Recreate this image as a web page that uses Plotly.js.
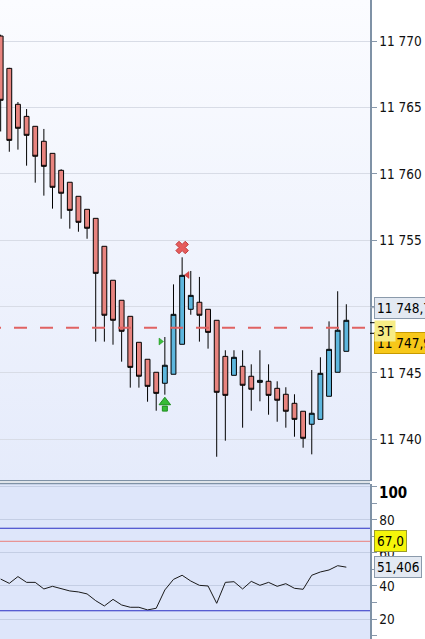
<!DOCTYPE html>
<html>
<head>
<meta charset="utf-8">
<script src="https://cdn.plot.ly/plotly-3.0.1.min.js"></script>
<style>
html,body{margin:0;padding:0;background:#fff;}
#wrap{position:relative;width:425px;height:639px;overflow:hidden;background:#fff;}
#bg1{position:absolute;left:0;top:0;width:370px;height:481px;background:linear-gradient(#fbfcff,#e5ebfb);}
#bg2{position:absolute;left:0;top:483px;width:370px;height:156px;background:#dee6fa;}
#chart{position:absolute;left:0;top:0;width:425px;height:639px;}
</style>
</head>
<body>
<div id="wrap"><div id="bg1"></div><div id="bg2"></div><div id="chart"></div></div>
<script>
// ---- data ----
const idx = Array.from({length: 41}, (_, i) => i);
const openP  = [11770.40,11767.96,11765.25,11764.34,11763.59,11762.46,11761.55,11760.27,11759.37,11758.31,11757.33,11756.65,11754.54,11751.98,11750.47,11749.26,11747.30,11746.02,11745.04,11744.21,11744.89,11747.15,11749.79,11750.32,11749.79,11748.96,11746.24,11744.81,11745.49,11744.74,11744.28,11744.36,11743.83,11743.38,11742.70,11742.10,11741.12,11741.49,11743.23,11745.04,11746.62];
const highP  = [11770.50,11768.00,11765.42,11764.89,11763.60,11763.39,11761.55,11760.35,11759.37,11758.31,11757.33,11756.65,11754.54,11751.98,11750.47,11749.26,11747.30,11746.02,11745.04,11747.70,11751.67,11753.71,11752.68,11752.23,11749.79,11748.96,11746.70,11746.70,11746.70,11745.64,11746.70,11745.64,11744.36,11743.91,11743.38,11742.10,11745.21,11746.17,11748.88,11751.15,11750.17];
const lowP   = [11763.20,11761.67,11761.83,11760.62,11759.34,11758.36,11757.38,11756.62,11755.87,11755.64,11755.11,11747.35,11747.35,11747.12,11745.84,11743.88,11743.88,11742.82,11742.14,11743.35,11744.89,11747.15,11749.38,11747.35,11746.82,11738.67,11739.88,11744.81,11740.86,11742.14,11742.85,11741.84,11741.31,11740.86,11740.18,11739.35,11738.85,11741.49,11743.23,11745.04,11746.62];
const closeP = [11765.55,11762.53,11763.44,11762.91,11761.33,11760.57,11758.99,11758.54,11757.25,11756.35,11755.90,11752.50,11749.34,11748.96,11748.13,11745.41,11744.74,11743.98,11743.45,11745.57,11749.41,11752.35,11750.84,11749.34,11748.05,11743.53,11743.30,11746.17,11744.06,11743.76,11744.43,11743.30,11742.93,11742.10,11741.49,11740.06,11741.95,11744.96,11746.77,11748.21,11748.96];
const osc    = [44.2,41.6,45.7,42.2,42.2,38.2,39.8,38.2,37.0,36.4,35.2,31.1,27.9,31.9,28.5,27.1,27.1,25.5,26.5,37.6,44.0,46.5,43.0,40.4,40.0,29.5,42.2,42.6,38.2,42.8,40.4,42.2,39.8,41.4,38.6,38.0,46.5,48.5,49.7,52.3,51.406];
const priceTicks = [11740, 11745, 11750, 11755, 11760, 11765, 11770];
const oscTicks = [20, 40, 60, 80, 100];
const oscTickText = ['20', '40', '60', '80', ''];
const oscMinor = [10, 30, 50, 70, 90];
const levelLine = 11748.4;           // dashed red price line
const oscLevels = {upper: 75, lower: 25, signal: 67.0};
const sellX = {x: 21, y: 11754.45};
const sellTri = {x: 21.62, y: 11752.38};
const buyTri = {x: 18.5, y: 11747.36};
const buyArrow = {x: 19, yHead: 11742.78, yStem: 11742.30};
const lastPriceLabel = '11 748,7';
const bidLabel = '11 747,9';
const tagLabel = '3T';
const signalLabel = '67,0';
const oscLabel = '51,406';

const W = 425, H = 639, PX = 370;
const px = v => v / PX, py = v => 1 - v / H;
const FONT = 'DejaVu Sans Condensed, DejaVu Sans, sans-serif';
const FS = 13.5;

const traces = [
  {
    type: 'candlestick', x: idx, open: openP, high: highP, low: lowP, close: closeP,
    xaxis: 'x', yaxis: 'y',
    increasing: {line: {color: '#000', width: 1}, fillcolor: '#5db6dd'},
    decreasing: {line: {color: '#000', width: 1}, fillcolor: '#e8847f'},
    whiskerwidth: 0, hoverinfo: 'skip'
  },
  {type: 'scatter', mode: 'markers', x: [sellX.x], y: [sellX.y], xaxis: 'x', yaxis: 'y',
   marker: {symbol: 'x', size: 11, color: '#e65c5c', line: {color: '#c03a3a', width: 1}}, hoverinfo: 'skip'},
  {type: 'scatter', mode: 'markers', x: [sellTri.x], y: [sellTri.y], xaxis: 'x', yaxis: 'y',
   marker: {symbol: 'triangle-left', size: 6, color: '#e04848', line: {color: '#b52a2a', width: 0.5}}, hoverinfo: 'skip'},
  {type: 'scatter', mode: 'markers', x: [buyTri.x], y: [buyTri.y], xaxis: 'x', yaxis: 'y',
   marker: {symbol: 'triangle-right', size: 6, color: '#3cbf3c', line: {color: '#1e8e1e', width: 0.5}}, hoverinfo: 'skip'},
  {type: 'scatter', mode: 'markers', x: [buyArrow.x], y: [buyArrow.yStem], xaxis: 'x', yaxis: 'y',
   marker: {symbol: 'square', size: 5, color: '#36bb36', line: {color: '#1e8e1e', width: 1}}, hoverinfo: 'skip'},
  {type: 'scatter', mode: 'markers', x: [buyArrow.x], y: [buyArrow.yHead], xaxis: 'x', yaxis: 'y',
   marker: {symbol: 'triangle-up', size: 10, color: '#36bb36', line: {color: '#1e8e1e', width: 1}}, hoverinfo: 'skip'},
  {type: 'scatter', mode: 'lines', x: idx, y: osc, xaxis: 'x', yaxis: 'y2',
   line: {color: '#1a1a1a', width: 1}, hoverinfo: 'skip'}
];

const axisLine = '#7f92a6';
const shapes = [
  {type: 'line', xref: 'paper', yref: 'y', x0: 0, x1: 1, y0: 11750, y1: 11750, line: {color: '#b4bac6', width: 1}, layer: 'below'},
  {type: 'line', xref: 'paper', yref: 'y', x0: px(-12), x1: 1, y0: levelLine, y1: levelLine, line: {color: '#e06262', width: 2, dash: '13px,13px'}},
  {type: 'line', xref: 'paper', yref: 'y2', x0: 0, x1: 1, y0: oscLevels.upper, y1: oscLevels.upper, line: {color: '#2a2fc4', width: 1.2}},
  {type: 'line', xref: 'paper', yref: 'y2', x0: 0, x1: 1, y0: oscLevels.lower, y1: oscLevels.lower, line: {color: '#2a2fc4', width: 1.2}},
  {type: 'line', xref: 'paper', yref: 'y2', x0: 0, x1: 1, y0: oscLevels.signal, y1: oscLevels.signal, line: {color: '#e89494', width: 1.2}},
  {type: 'line', xref: 'paper', yref: 'paper', x0: 0, x1: 1, y0: py(480.7), y1: py(480.7), line: {color: axisLine, width: 1.3}},
  {type: 'line', xref: 'paper', yref: 'paper', x0: 0, x1: 1, y0: py(483.5), y1: py(483.5), line: {color: axisLine, width: 1.3}},
  {type: 'line', xref: 'paper', yref: 'paper', x0: 1, x1: px(375), y0: py(307.7), y1: py(307.7), line: {color: '#9aa6b4', width: 1}},
  {type: 'line', xref: 'paper', yref: 'paper', x0: 1, x1: px(375), y0: py(322.7), y1: py(322.7), line: {color: '#000', width: 1}},
  {type: 'line', xref: 'paper', yref: 'paper', x0: 1, x1: px(375), y0: py(333.3), y1: py(333.3), line: {color: '#000', width: 1}}
];

function label(text, x, y, bg, border, opts) {
  return Object.assign({
    xref: 'paper', yref: 'paper', x: px(x), y: py(y), xanchor: 'left', yanchor: 'middle',
    text: text, showarrow: false, bgcolor: bg, bordercolor: border || 'rgba(0,0,0,0)', borderwidth: 1,
    borderpad: 2, font: {family: FONT, size: FS, color: '#000'}, align: 'left'
  }, opts || {});
}

const annotations = [
  label(lastPriceLabel, 374.3, 307.7, '#e3e9f2', '#8b9aab'),
  label(bidLabel, 374.3, 342.5, '#f7c81a', '#c79a00'),
  label(tagLabel, 374.3, 330.5, '#f6ec86', null),
  label(signalLabel, 374.3, 540.7, '#f5f50a', '#9c9c2a'),
  label(oscLabel, 374.3, 566.7, '#e3e9f2', '#8b9aab'),
  {xref: 'paper', yref: 'paper', x: px(377), y: py(493), xanchor: 'left', yanchor: 'middle',
   text: '<b>100</b>', showarrow: false, font: {family: FONT, size: 15, color: '#000'}}
];

const layout = {
  width: W, height: H,
  margin: {l: 0, r: W - PX, t: 0, b: 0, pad: 0, autoexpand: false},
  paper_bgcolor: 'rgba(0,0,0,0)', plot_bgcolor: 'rgba(0,0,0,0)',
  showlegend: false, separators: ', ', boxgap: 0.2,
  font: {family: FONT, size: FS, color: '#000'},
  xaxis: {domain: [0, 1], range: [-0.076, 42.74], showgrid: false, zeroline: false, automargin: false,
          showticklabels: false, ticks: '', showline: false, rangeslider: {visible: false}, anchor: 'y'},
  yaxis: {domain: [py(480.7), 1], range: [11736.863, 11773.115], side: 'right', anchor: 'x', automargin: false,
          tickmode: 'array', tickvals: priceTicks, tickformat: ',.0f',
          ticks: 'outside', ticklen: 5, tickcolor: '#8898ab', showline: true, linecolor: axisLine, linewidth: 1.5,
          gridcolor: '#d8dce6', gridwidth: 1, zeroline: false, tickfont: {family: FONT, size: FS, color: '#111'}},
  yaxis2: {domain: [0, py(483.5)], range: [7.88, 102.1], side: 'right', anchor: 'x', automargin: false,
           tickmode: 'array', tickvals: oscTicks, ticktext: oscTickText,
           ticks: 'outside', ticklen: 5, tickcolor: '#8898ab', showline: true, linecolor: axisLine, linewidth: 1.5,
           gridcolor: '#c4cee4', gridwidth: 1, zeroline: false, tickfont: {family: FONT, size: FS, color: '#111'},
           minor: {tickmode: 'array', tickvals: oscMinor, ticks: 'outside', ticklen: 5, tickcolor: '#8898ab', showgrid: false}},
  shapes: shapes, annotations: annotations
};

Plotly.newPlot('chart', traces, layout, {staticPlot: true, displayModeBar: false});
</script>
</body>
</html>
